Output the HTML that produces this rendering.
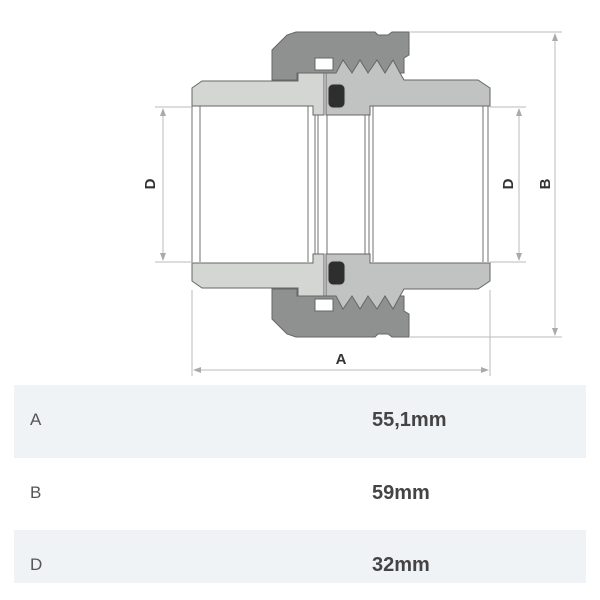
<!DOCTYPE html>
<html><head><style>
body{margin:0;background:#fff;width:600px;height:600px;overflow:hidden;position:relative;font-family:"Liberation Sans",sans-serif}
.row{position:absolute;left:14px;width:572px}
.lab{position:absolute;left:17px;font-size:17px;color:#555}
.val{position:absolute;left:358px;font-size:20px;font-weight:bold;color:#444}
</style></head><body>
<svg width="600" height="380" style="position:absolute;left:0;top:0">
<defs>
<g id="half" stroke="#666" stroke-width="1">
<polygon fill="#8f9090" points="272,50 287,35 296,32 375,32 378,35 388,35 392,32 409,32 409,55 404,58 404,73 297,73 297,80 272,80"/>
<rect x="315" y="58" width="18" height="12" fill="#fff"/>
<polygon fill="#c1c2c2" points="326,73 336,73 343,60 352,73 360,60 368,73 377,60 385,73 393,60 400,73 404,80 478,80 490,88 490,106 370,106 370,115 326,115"/>
<polygon fill="#d4d6d4" points="192,88 202,81 298,81 298,73 324,73 324,115 313,115 313,106 192,106"/>
<rect x="328" y="84" width="17" height="24" rx="5" fill="#2e2e2e" stroke="#bbb"/>
</g>
</defs>
<g stroke="#888" stroke-width="1.2" fill="none">
<line x1="192" y1="106" x2="192" y2="262"/><line x1="200" y1="106" x2="200" y2="262"/>
<line x1="308" y1="106" x2="308" y2="262"/><line x1="315" y1="115" x2="315" y2="254"/>
<line x1="318" y1="115" x2="318" y2="254"/><line x1="327" y1="115" x2="327" y2="254"/>
<line x1="365" y1="115" x2="365" y2="254"/><line x1="369" y1="106" x2="369" y2="262"/>
<line x1="373" y1="106" x2="373" y2="262"/><line x1="483" y1="106" x2="483" y2="262"/>
<line x1="488" y1="106" x2="488" y2="262"/>
</g>
<use href="#half"/>
<use href="#half" transform="translate(0,369) scale(1,-1)"/>
<g stroke="#bbb" stroke-width="1" fill="none">
<line x1="155" y1="107" x2="192" y2="107"/><line x1="155" y1="262" x2="192" y2="262"/>
<line x1="163" y1="110" x2="163" y2="259"/>
<line x1="490" y1="107" x2="526" y2="107"/><line x1="490" y1="262" x2="526" y2="262"/>
<line x1="519" y1="110" x2="519" y2="259"/>
<line x1="409" y1="32" x2="562" y2="32"/><line x1="409" y1="337" x2="562" y2="337"/>
<line x1="555" y1="35" x2="555" y2="334"/>
<line x1="192" y1="290" x2="192" y2="376"/><line x1="490" y1="290" x2="490" y2="376"/>
<line x1="195" y1="370" x2="487" y2="370"/>
</g>
<g fill="#aaa">
<polygon points="163,108 160,116 166,116"/><polygon points="163,261 160,253 166,253"/>
<polygon points="519,108 516,116 522,116"/><polygon points="519,261 516,253 522,253"/>
<polygon points="555,33 552,41 558,41"/><polygon points="555,336 552,328 558,328"/>
<polygon points="193,370 201,367 201,373"/><polygon points="489,370 481,367 481,373"/>
</g>
<g font-family="Liberation Sans" font-weight="bold" font-size="15" fill="#333" text-anchor="middle">
<text transform="translate(155,184) rotate(-90)">D</text>
<text transform="translate(513,184) rotate(-90)">D</text>
<text transform="translate(550,184) rotate(-90)">B</text>
<text x="341" y="364">A</text>
</g>
</svg>
<div class="row" style="top:385px;height:73px;background:#f0f3f6"></div>
<div class="row" style="top:530px;height:53px;background:#f0f3f6"></div>
<div class="lab" style="top:410px;left:30px">A</div><div class="val" style="top:409px;left:372px">55,1mm</div>
<div class="lab" style="top:483px;left:30px">B</div><div class="val" style="top:482px;left:372px">59mm</div>
<div class="lab" style="top:555px;left:30px">D</div><div class="val" style="top:554px;left:372px">32mm</div>
</body></html>
